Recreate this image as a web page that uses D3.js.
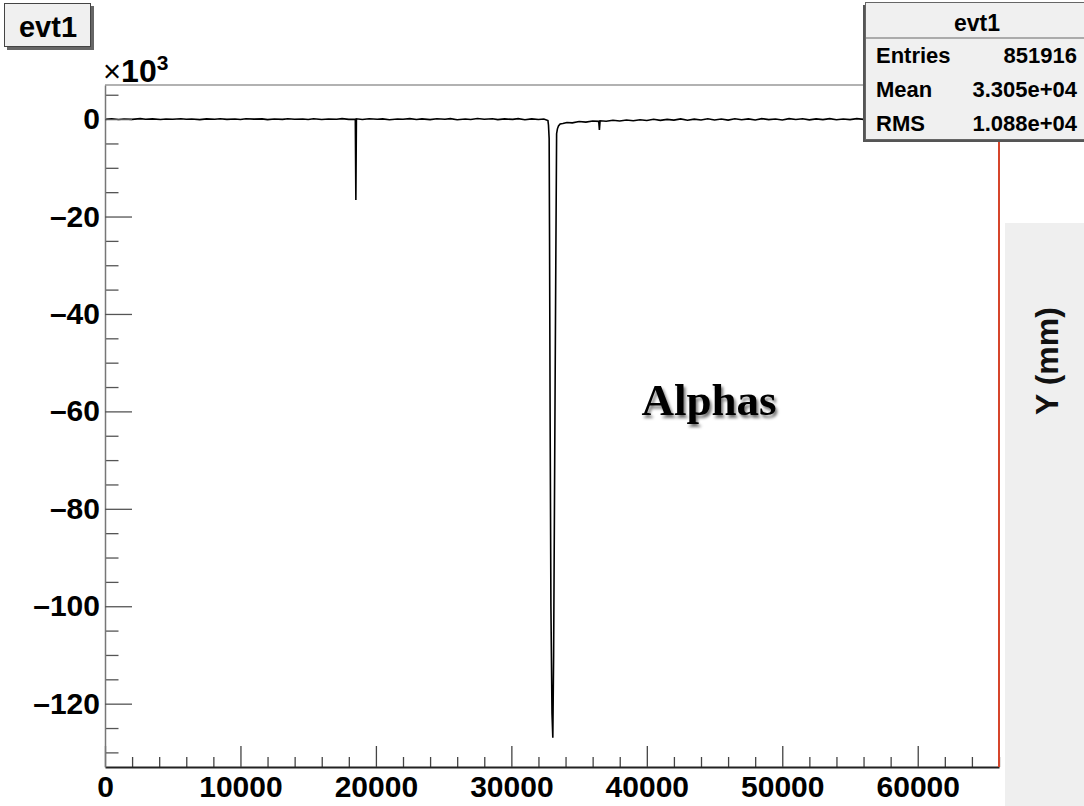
<!DOCTYPE html>
<html>
<head>
<meta charset="utf-8">
<title>evt1</title>
<script src="https://cdnjs.cloudflare.com/ajax/libs/d3/7.8.5/d3.min.js"></script>
<style>
  body { margin: 0; background: #fff; }
  svg { display: block; font-family: "Liberation Sans", Arial, sans-serif; }
</style>
</head>
<body>
<svg id="svg" width="1084" height="806"></svg>
<script>
// tick labels
const xMajor = [0, 10000, 20000, 30000, 40000, 50000, 60000];
const yMajor = [-120000, -100000, -80000, -60000, -40000, -20000, 0];
const statLabels = ['Entries', 'Mean', 'RMS'];
const statValues = ['851916', '3.305e+04', '1.088e+04'];

// trace samples [bin, content]
const baselineA = [[0,-50],[500,60],[1000,-80],[1400,20],[2000,-60],[2600,90],[3000,-20],[3500,40],[4100,-90],[4500,30],
  [5000,-40],[5600,80],[6000,-30],[6400,10],[7000,-100],[7500,50],[8100,-20],[8500,70],[9000,-60],[9600,30],
  [10000,-70],[10400,60],[11000,-10],[11600,40],[12000,-110],[12500,30],[13100,-50],[13500,80],[14000,-30],[14600,20],
  [15000,-80],[15400,60],[16000,-90],[16500,20],[17100,-40],[17500,90],[18000,-60],[18480,-40]];
const spike1 = [[18520,-16600],[18560,60]];
const baselineB = [[19000,-80],[19500,70],[20100,-40],[20500,50],[21000,-120],[21600,30],[22000,-20],[22500,100],[23000,-70],
  [23400,40],[24000,-110],[24500,60],[25100,-30],[25500,90],[26000,-120],[26600,20],[27000,-80],[27500,110],[28000,-40],
  [28600,60],[29000,-100],[29500,40],[30100,-60],[30500,90],[31000,-120],[31500,40],[32000,-90],[32400,20],[32700,-300]];
const pulse = [[32740,-1200],[32790,-4000],[32820,-25000],[32860,-60000],[32920,-100000],[33000,-122000],[33060,-127000],
  [33120,-110000],[33200,-70000],[33280,-30000],[33340,-3000],[33400,-2000],[33480,-1400],[33600,-1000],[33800,-900],
  [34100,-700],[34500,-780],[35000,-500],[35500,-620],[36000,-400],[36450,-460],[36500,-2200],[36550,-350]];
const baselineC = [[37000,-430],[37500,-250],[38000,-380],[38500,-180],[39000,-330],[39500,-120],[40000,-280],[40500,-40],
  [41000,-260],[41500,-60],[42000,-210],[42500,40],[43000,-220],[43500,0],[44000,-190],[44500,60],[45000,-170],[45500,30],
  [46000,-200],[46500,80],[47000,-120],[47500,40],[48000,-180],[48500,90],[49000,-110],[49500,20],[50000,-170],[50500,100],
  [51000,-80],[51500,60],[52000,-160],[52500,50],[53000,-100],[53500,90],[54000,-140],[54500,20],[55000,-100],[55500,90],
  [56000,-60],[56500,70],[57000,-120],[58000,50],[59000,-90],[60000,60],[61000,-70],[62000,80],[63000,-90],[64000,50],
  [65000,-60],[66000,0]];

const trace = [...baselineA, ...spike1, ...baselineB, ...pulse, ...baselineC];

const svg = d3.select('#svg');
const x = d3.scaleLinear().domain([0, 66000]).range([105, 999]);
const y = d3.scaleLinear().domain([-133000, 7000]).range([767, 85]);
const font = '"Liberation Sans", Arial, sans-serif';

// frame
svg.append('line').attr('x1', x(0)).attr('x2', x(66000)).attr('y1', y(7000)).attr('y2', y(7000))
  .attr('stroke', '#999').attr('stroke-width', 1.5);

// data
svg.append('path').datum(trace)
  .attr('d', d3.line().x(d => x(d[0])).y(d => y(d[1])))
  .attr('fill', 'none').attr('stroke', '#000').attr('stroke-width', 1.6);

// x axis
const gx = svg.append('g').attr('transform', `translate(0,${y(-133000)})`);
gx.append('g').call(d3.axisBottom(x).tickValues(d3.range(0, 66001, 2000).filter(v => v % 10000)).tickSize(-10).tickSizeOuter(0).tickFormat(''))
  .select('.domain').remove();
gx.append('g').call(d3.axisBottom(x).tickValues(xMajor).tickSize(-21).tickSizeOuter(0).tickPadding(9).tickFormat(d3.format('d')));
gx.selectAll('.domain').attr('stroke', '#222').attr('stroke-width', 2);
gx.selectAll('.tick line').attr('stroke', '#444').attr('stroke-width', 1.3);
gx.selectAll('text').attr('font-size', 30).attr('font-weight', 'bold').attr('font-family', font).attr('fill', '#000');

// y axis
const gy = svg.append('g').attr('transform', `translate(${x(0)},0)`);
gy.append('g').call(d3.axisLeft(y).tickValues(d3.range(-130000, 5001, 5000).filter(v => v % 20000)).tickSize(-13.5).tickSizeOuter(0).tickFormat(''))
  .select('.domain').remove();
gy.append('g').call(d3.axisLeft(y).tickValues(yMajor).tickSize(-27).tickSizeOuter(0).tickPadding(5)
  .tickFormat(d => (d < 0 ? '\u2013' : '') + Math.abs(d / 1000)));
gy.selectAll('.domain').attr('stroke', '#777').attr('stroke-width', 1.5);
gy.selectAll('.tick line').attr('stroke', '#555').attr('stroke-width', 1.3);
gy.selectAll('text').attr('font-size', 30).attr('font-weight', 'bold').attr('font-family', font).attr('fill', '#000');

// red right edge
svg.append('line').attr('x1', x(66000)).attr('x2', x(66000)).attr('y1', y(7000)).attr('y2', y(-133000))
  .attr('stroke', '#d6452b').attr('stroke-width', 2);

// x10^3
const mult = svg.append('text').attr('x', 103).attr('y', 82).attr('font-size', 31).attr('fill', '#000');
mult.append('tspan').text('×');
mult.append('tspan').attr('font-weight', 'bold').attr('font-size', 32).text('10');
mult.append('tspan').attr('font-weight', 'bold').attr('font-size', 21).attr('dy', -12).text('3');

// title box
svg.append('rect').attr('x', 7).attr('y', 6).attr('width', 87).attr('height', 44).attr('fill', '#666');
svg.append('rect').attr('x', 4.5).attr('y', 3.5).attr('width', 86).attr('height', 43)
  .attr('fill', '#f0f0f0').attr('stroke', '#444').attr('stroke-width', 1);
svg.append('text').attr('x', 48).attr('y', 37).attr('text-anchor', 'middle')
  .attr('font-size', 29).attr('font-weight', 'bold').text('evt1');

// stats box
svg.append('rect').attr('x', 863).attr('y', 5).attr('width', 240).attr('height', 137).attr('fill', '#555');
svg.append('rect').attr('x', 865.5).attr('y', 2.5).attr('width', 240).attr('height', 137)
  .attr('fill', '#f0f0f0').attr('stroke', '#666').attr('stroke-width', 1);
svg.append('line').attr('x1', 865).attr('x2', 1084).attr('y1', 38).attr('y2', 38).attr('stroke', '#666');
svg.append('text').attr('x', 977).attr('y', 31).attr('text-anchor', 'middle')
  .attr('font-size', 23).attr('font-weight', 'bold').text('evt1');
const rowY = [63, 97, 131];
svg.selectAll('.slabel').data(statLabels).join('text')
  .attr('x', 876).attr('y', (d, i) => rowY[i]).attr('font-size', 22).attr('font-weight', 'bold').text(d => d);
svg.selectAll('.svalue').data(statValues).join('text')
  .attr('x', 1077).attr('y', (d, i) => rowY[i]).attr('text-anchor', 'end').attr('font-size', 22).attr('font-weight', 'bold').text(d => d);

// annotation
const defs = svg.append('defs');
const f = defs.append('filter').attr('id', 'sh').attr('x', '-10%').attr('y', '-10%').attr('width', '130%').attr('height', '140%');
f.append('feDropShadow').attr('dx', 2).attr('dy', 3).attr('stdDeviation', 1.5).attr('flood-color', '#000').attr('flood-opacity', 0.55);
svg.append('text').attr('x', 709).attr('y', 415).attr('text-anchor', 'middle')
  .attr('font-family', '"Liberation Serif", "DejaVu Serif", serif').attr('font-weight', 'bold').attr('font-size', 45)
  .attr('filter', 'url(#sh)').text('Alphas');

// right grey panel
svg.append('rect').attr('x', 1005).attr('y', 223).attr('width', 79).attr('height', 583).attr('fill', '#efefef');
svg.append('text').attr('transform', 'translate(1058,361) rotate(-90)').attr('text-anchor', 'middle')
  .attr('font-size', 32).attr('font-weight', 'bold').attr('fill', '#111').text('Y (mm)');
</script>
</body>
</html>
